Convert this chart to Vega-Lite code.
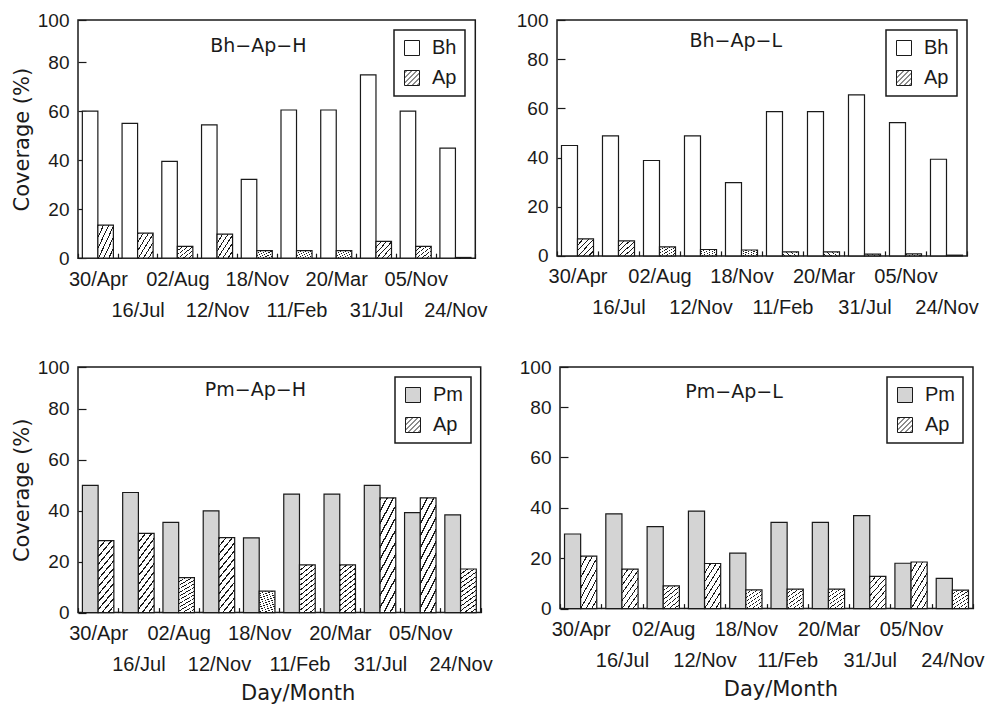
{
  "$schema": "https://vega.github.io/schema/vega-lite/v6.json",
  "background": "white",
  "padding": {"left": 10, "top": 10, "right": 0, "bottom": 0},
  "data": {"values": [
    {"panel": "BhH", "date": "30/Apr", "series": "Bh", "value": 60},
    {"panel": "BhH", "date": "16/Jul", "series": "Bh", "value": 55},
    {"panel": "BhH", "date": "02/Aug", "series": "Bh", "value": 39.5},
    {"panel": "BhH", "date": "12/Nov", "series": "Bh", "value": 54.4},
    {"panel": "BhH", "date": "18/Nov", "series": "Bh", "value": 32.2},
    {"panel": "BhH", "date": "11/Feb", "series": "Bh", "value": 60.5},
    {"panel": "BhH", "date": "20/Mar", "series": "Bh", "value": 60.5},
    {"panel": "BhH", "date": "31/Jul", "series": "Bh", "value": 74.8},
    {"panel": "BhH", "date": "05/Nov", "series": "Bh", "value": 60},
    {"panel": "BhH", "date": "24/Nov", "series": "Bh", "value": 44.9},
    {"panel": "BhH", "date": "30/Apr", "series": "Ap", "value": 13.5},
    {"panel": "BhH", "date": "16/Jul", "series": "Ap", "value": 10.2},
    {"panel": "BhH", "date": "02/Aug", "series": "Ap", "value": 4.8},
    {"panel": "BhH", "date": "12/Nov", "series": "Ap", "value": 9.8},
    {"panel": "BhH", "date": "18/Nov", "series": "Ap", "value": 3.1},
    {"panel": "BhH", "date": "11/Feb", "series": "Ap", "value": 3.1},
    {"panel": "BhH", "date": "20/Mar", "series": "Ap", "value": 3.1},
    {"panel": "BhH", "date": "31/Jul", "series": "Ap", "value": 6.9},
    {"panel": "BhH", "date": "05/Nov", "series": "Ap", "value": 4.8},
    {"panel": "BhH", "date": "24/Nov", "series": "Ap", "value": 0.3},
    {"panel": "BhL", "date": "30/Apr", "series": "Bh", "value": 44.9},
    {"panel": "BhL", "date": "16/Jul", "series": "Bh", "value": 48.8},
    {"panel": "BhL", "date": "02/Aug", "series": "Bh", "value": 38.8},
    {"panel": "BhL", "date": "12/Nov", "series": "Bh", "value": 48.8},
    {"panel": "BhL", "date": "18/Nov", "series": "Bh", "value": 29.8},
    {"panel": "BhL", "date": "11/Feb", "series": "Bh", "value": 58.7},
    {"panel": "BhL", "date": "20/Mar", "series": "Bh", "value": 58.7},
    {"panel": "BhL", "date": "31/Jul", "series": "Bh", "value": 65.5},
    {"panel": "BhL", "date": "05/Nov", "series": "Bh", "value": 54.2},
    {"panel": "BhL", "date": "24/Nov", "series": "Bh", "value": 39.3},
    {"panel": "BhL", "date": "30/Apr", "series": "Ap", "value": 6.9},
    {"panel": "BhL", "date": "16/Jul", "series": "Ap", "value": 6.1},
    {"panel": "BhL", "date": "02/Aug", "series": "Ap", "value": 3.7},
    {"panel": "BhL", "date": "12/Nov", "series": "Ap", "value": 2.6},
    {"panel": "BhL", "date": "18/Nov", "series": "Ap", "value": 2.4},
    {"panel": "BhL", "date": "11/Feb", "series": "Ap", "value": 1.6},
    {"panel": "BhL", "date": "20/Mar", "series": "Ap", "value": 1.6},
    {"panel": "BhL", "date": "31/Jul", "series": "Ap", "value": 0.7},
    {"panel": "BhL", "date": "05/Nov", "series": "Ap", "value": 0.8},
    {"panel": "BhL", "date": "24/Nov", "series": "Ap", "value": 0.3},
    {"panel": "PmH", "date": "30/Apr", "series": "Pm", "value": 49.9},
    {"panel": "PmH", "date": "16/Jul", "series": "Pm", "value": 47.1},
    {"panel": "PmH", "date": "02/Aug", "series": "Pm", "value": 35.4},
    {"panel": "PmH", "date": "12/Nov", "series": "Pm", "value": 39.9},
    {"panel": "PmH", "date": "18/Nov", "series": "Pm", "value": 29.3},
    {"panel": "PmH", "date": "11/Feb", "series": "Pm", "value": 46.5},
    {"panel": "PmH", "date": "20/Mar", "series": "Pm", "value": 46.5},
    {"panel": "PmH", "date": "31/Jul", "series": "Pm", "value": 49.9},
    {"panel": "PmH", "date": "05/Nov", "series": "Pm", "value": 39.2},
    {"panel": "PmH", "date": "24/Nov", "series": "Pm", "value": 38.3},
    {"panel": "PmH", "date": "30/Apr", "series": "Ap", "value": 28.2},
    {"panel": "PmH", "date": "16/Jul", "series": "Ap", "value": 31.1},
    {"panel": "PmH", "date": "02/Aug", "series": "Ap", "value": 13.7},
    {"panel": "PmH", "date": "12/Nov", "series": "Ap", "value": 29.4},
    {"panel": "PmH", "date": "18/Nov", "series": "Ap", "value": 8.4},
    {"panel": "PmH", "date": "11/Feb", "series": "Ap", "value": 18.7},
    {"panel": "PmH", "date": "20/Mar", "series": "Ap", "value": 18.7},
    {"panel": "PmH", "date": "31/Jul", "series": "Ap", "value": 45},
    {"panel": "PmH", "date": "05/Nov", "series": "Ap", "value": 45},
    {"panel": "PmH", "date": "24/Nov", "series": "Ap", "value": 17.1},
    {"panel": "PmL", "date": "30/Apr", "series": "Pm", "value": 29.6},
    {"panel": "PmL", "date": "16/Jul", "series": "Pm", "value": 37.6},
    {"panel": "PmL", "date": "02/Aug", "series": "Pm", "value": 32.5},
    {"panel": "PmL", "date": "12/Nov", "series": "Pm", "value": 38.7},
    {"panel": "PmL", "date": "18/Nov", "series": "Pm", "value": 22},
    {"panel": "PmL", "date": "11/Feb", "series": "Pm", "value": 34.2},
    {"panel": "PmL", "date": "20/Mar", "series": "Pm", "value": 34.2},
    {"panel": "PmL", "date": "31/Jul", "series": "Pm", "value": 36.9},
    {"panel": "PmL", "date": "05/Nov", "series": "Pm", "value": 18},
    {"panel": "PmL", "date": "24/Nov", "series": "Pm", "value": 12},
    {"panel": "PmL", "date": "30/Apr", "series": "Ap", "value": 20.8},
    {"panel": "PmL", "date": "16/Jul", "series": "Ap", "value": 15.7},
    {"panel": "PmL", "date": "02/Aug", "series": "Ap", "value": 9},
    {"panel": "PmL", "date": "12/Nov", "series": "Ap", "value": 17.9},
    {"panel": "PmL", "date": "18/Nov", "series": "Ap", "value": 7.4},
    {"panel": "PmL", "date": "11/Feb", "series": "Ap", "value": 7.7},
    {"panel": "PmL", "date": "20/Mar", "series": "Ap", "value": 7.7},
    {"panel": "PmL", "date": "31/Jul", "series": "Ap", "value": 12.8},
    {"panel": "PmL", "date": "05/Nov", "series": "Ap", "value": 18.5},
    {"panel": "PmL", "date": "24/Nov", "series": "Ap", "value": 7.3}
  ]},
  "spacing": 36,
  "resolve": {"scale": {"fill": "independent", "xOffset": "independent"}, "legend": {"fill": "independent"}},
  "vconcat": [
    {
      "spacing": 27,
      "resolve": {"scale": {"fill": "independent", "xOffset": "independent"}, "legend": {"fill": "independent"}},
      "hconcat": [
        {
          "width": 397.3, "height": 238.2,
          "transform": [{"filter": "datum.panel === 'BhH'"}],
          "title": {"text": "Bh−Ap−H", "offset": -45.4, "dx": -18.3},
          "mark": {"type": "bar", "stroke": "#1a1a1a", "strokeWidth": 1.2},
          "encoding": {
            "x": {"field": "date", "type": "nominal", "sort": null, "scale": {"paddingInner": 0, "paddingOuter": 0},
                  "axis": {"title": null, "labelExpr": "indexof(['16/Jul','12/Nov','11/Feb','31/Jul','24/Nov'], datum.value) >= 0 ? ['', datum.label] : datum.label"}},
            "xOffset": {"field": "series", "type": "nominal", "sort": ["Bh", "Ap"], "scale": {"paddingInner": 0, "paddingOuter": 0.28}},
            "y": {"field": "value", "type": "quantitative", "stack": null,
                  "scale": {"domain": [0, 80, 100], "range": [238.2, 42.2, 0], "nice": false},
                  "axis": {"title": "Coverage (%)", "values": [0, 20, 40, 60, 80, 100]}},
            "fill": {"field": "series", "type": "nominal",
                     "scale": {"domain": ["Bh", "Ap"], "range": ["#ffffff", "#ffffff"]},
                     "condition": {"test": "datum.series === 'Ap'", "value": {"gradient": "linear", "x1": 0, "y1": 0, "x2": 1, "y2": 1, "stops": [
                       {"offset": 0, "color": "#1a1a1a"}, {"offset": 0.035, "color": "#1a1a1a"}, {"offset": 0.035, "color": "#ffffff"}, {"offset": 0.1667, "color": "#ffffff"},
                       {"offset": 0.1667, "color": "#1a1a1a"}, {"offset": 0.2017, "color": "#1a1a1a"}, {"offset": 0.2017, "color": "#ffffff"}, {"offset": 0.3333, "color": "#ffffff"},
                       {"offset": 0.3333, "color": "#1a1a1a"}, {"offset": 0.3683, "color": "#1a1a1a"}, {"offset": 0.3683, "color": "#ffffff"}, {"offset": 0.5, "color": "#ffffff"},
                       {"offset": 0.5, "color": "#1a1a1a"}, {"offset": 0.535, "color": "#1a1a1a"}, {"offset": 0.535, "color": "#ffffff"}, {"offset": 0.6667, "color": "#ffffff"},
                       {"offset": 0.6667, "color": "#1a1a1a"}, {"offset": 0.7017, "color": "#1a1a1a"}, {"offset": 0.7017, "color": "#ffffff"}, {"offset": 0.8333, "color": "#ffffff"},
                       {"offset": 0.8333, "color": "#1a1a1a"}, {"offset": 0.8683, "color": "#1a1a1a"}, {"offset": 0.8683, "color": "#ffffff"}, {"offset": 1, "color": "#ffffff"}]}},
                     "legend": {"title": null, "encode": {"symbols": {"update": {
                       "shape": [{"test": "datum.value === 'Ap'", "value": "M-1,-1H1V1H-1Z M-1,-0.67L-0.67,-1 M-1,0L0,-1 M-1,0.67L0.67,-1 M-0.67,1L1,-0.67 M0,1L1,0 M0.67,1L1,0.67"}, {"value": "square"}],
                       "fill": {"value": "#ffffff"}, "stroke": {"value": "#1a1a1a"}, "strokeWidth": {"value": 1}, "opacity": {"value": 1}}}}}}
          }
        },
        {
          "width": 410, "height": 235.9,
          "transform": [{"filter": "datum.panel === 'BhL'"}],
          "title": {"text": "Bh−Ap−L", "offset": -40.4, "dx": -26.3},
          "mark": {"type": "bar", "stroke": "#1a1a1a", "strokeWidth": 1.2},
          "encoding": {
            "x": {"field": "date", "type": "nominal", "sort": null, "scale": {"paddingInner": 0, "paddingOuter": 0},
                  "axis": {"title": null, "labelExpr": "indexof(['16/Jul','12/Nov','11/Feb','31/Jul','24/Nov'], datum.value) >= 0 ? ['', datum.label] : datum.label"}},
            "xOffset": {"field": "series", "type": "nominal", "sort": ["Bh", "Ap"], "scale": {"paddingInner": 0, "paddingOuter": 0.28}},
            "y": {"field": "value", "type": "quantitative", "stack": null,
                  "scale": {"domain": [0, 80, 100], "range": [235.9, 39.2, 0], "nice": false},
                  "axis": {"title": null, "values": [0, 20, 40, 60, 80, 100]}},
            "fill": {"field": "series", "type": "nominal",
                     "scale": {"domain": ["Bh", "Ap"], "range": ["#ffffff", "#ffffff"]},
                     "condition": {"test": "datum.series === 'Ap'", "value": {"gradient": "linear", "x1": 0, "y1": 0, "x2": 1, "y2": 1, "stops": [
                       {"offset": 0, "color": "#1a1a1a"}, {"offset": 0.035, "color": "#1a1a1a"}, {"offset": 0.035, "color": "#ffffff"}, {"offset": 0.1667, "color": "#ffffff"},
                       {"offset": 0.1667, "color": "#1a1a1a"}, {"offset": 0.2017, "color": "#1a1a1a"}, {"offset": 0.2017, "color": "#ffffff"}, {"offset": 0.3333, "color": "#ffffff"},
                       {"offset": 0.3333, "color": "#1a1a1a"}, {"offset": 0.3683, "color": "#1a1a1a"}, {"offset": 0.3683, "color": "#ffffff"}, {"offset": 0.5, "color": "#ffffff"},
                       {"offset": 0.5, "color": "#1a1a1a"}, {"offset": 0.535, "color": "#1a1a1a"}, {"offset": 0.535, "color": "#ffffff"}, {"offset": 0.6667, "color": "#ffffff"},
                       {"offset": 0.6667, "color": "#1a1a1a"}, {"offset": 0.7017, "color": "#1a1a1a"}, {"offset": 0.7017, "color": "#ffffff"}, {"offset": 0.8333, "color": "#ffffff"},
                       {"offset": 0.8333, "color": "#1a1a1a"}, {"offset": 0.8683, "color": "#1a1a1a"}, {"offset": 0.8683, "color": "#ffffff"}, {"offset": 1, "color": "#ffffff"}]}},
                     "legend": {"title": null, "encode": {"symbols": {"update": {
                       "shape": [{"test": "datum.value === 'Ap'", "value": "M-1,-1H1V1H-1Z M-1,-0.67L-0.67,-1 M-1,0L0,-1 M-1,0.67L0.67,-1 M-0.67,1L1,-0.67 M0,1L1,0 M0.67,1L1,0.67"}, {"value": "square"}],
                       "fill": {"value": "#ffffff"}, "stroke": {"value": "#1a1a1a"}, "strokeWidth": {"value": 1}, "opacity": {"value": 1}}}}}}
          }
        }
      ]
    },
    {
      "spacing": 25,
      "resolve": {"scale": {"fill": "independent", "xOffset": "independent"}, "legend": {"fill": "independent"}},
      "hconcat": [
        {
          "width": 402.7, "height": 245.6,
          "transform": [{"filter": "datum.panel === 'PmH'"}],
          "title": {"text": "Pm−Ap−H", "offset": -42.1, "dx": -24},
          "mark": {"type": "bar", "stroke": "#1a1a1a", "strokeWidth": 1.2},
          "encoding": {
            "x": {"field": "date", "type": "nominal", "sort": null, "scale": {"paddingInner": 0, "paddingOuter": 0},
                  "axis": {"title": "Day/Month", "titleX": 219.7, "labelExpr": "indexof(['16/Jul','12/Nov','11/Feb','31/Jul','24/Nov'], datum.value) >= 0 ? ['', datum.label] : datum.label"}},
            "xOffset": {"field": "series", "type": "nominal", "sort": ["Pm", "Ap"], "scale": {"paddingInner": 0, "paddingOuter": 0.28}},
            "y": {"field": "value", "type": "quantitative", "stack": null,
                  "scale": {"domain": [0, 80, 100], "range": [245.6, 41.6, 0], "nice": false},
                  "axis": {"title": "Coverage (%)", "values": [0, 20, 40, 60, 80, 100]}},
            "fill": {"field": "series", "type": "nominal",
                     "scale": {"domain": ["Pm", "Ap"], "range": ["#d4d4d4", "#ffffff"]},
                     "condition": {"test": "datum.series === 'Ap'", "value": {"gradient": "linear", "x1": 0, "y1": 0, "x2": 0.307, "y2": 1.18, "stops": [
                       {"offset": 0, "color": "#1a1a1a"}, {"offset": 0.02, "color": "#1a1a1a"}, {"offset": 0.02, "color": "#ffffff"}, {"offset": 0.0833, "color": "#ffffff"},
                       {"offset": 0.0833, "color": "#1a1a1a"}, {"offset": 0.1033, "color": "#1a1a1a"}, {"offset": 0.1033, "color": "#ffffff"}, {"offset": 0.1667, "color": "#ffffff"},
                       {"offset": 0.1667, "color": "#1a1a1a"}, {"offset": 0.1867, "color": "#1a1a1a"}, {"offset": 0.1867, "color": "#ffffff"}, {"offset": 0.25, "color": "#ffffff"},
                       {"offset": 0.25, "color": "#1a1a1a"}, {"offset": 0.27, "color": "#1a1a1a"}, {"offset": 0.27, "color": "#ffffff"}, {"offset": 0.3333, "color": "#ffffff"},
                       {"offset": 0.3333, "color": "#1a1a1a"}, {"offset": 0.3533, "color": "#1a1a1a"}, {"offset": 0.3533, "color": "#ffffff"}, {"offset": 0.4167, "color": "#ffffff"},
                       {"offset": 0.4167, "color": "#1a1a1a"}, {"offset": 0.4367, "color": "#1a1a1a"}, {"offset": 0.4367, "color": "#ffffff"}, {"offset": 0.5, "color": "#ffffff"},
                       {"offset": 0.5, "color": "#1a1a1a"}, {"offset": 0.52, "color": "#1a1a1a"}, {"offset": 0.52, "color": "#ffffff"}, {"offset": 0.5833, "color": "#ffffff"},
                       {"offset": 0.5833, "color": "#1a1a1a"}, {"offset": 0.6033, "color": "#1a1a1a"}, {"offset": 0.6033, "color": "#ffffff"}, {"offset": 0.6667, "color": "#ffffff"},
                       {"offset": 0.6667, "color": "#1a1a1a"}, {"offset": 0.6867, "color": "#1a1a1a"}, {"offset": 0.6867, "color": "#ffffff"}, {"offset": 0.75, "color": "#ffffff"},
                       {"offset": 0.75, "color": "#1a1a1a"}, {"offset": 0.77, "color": "#1a1a1a"}, {"offset": 0.77, "color": "#ffffff"}, {"offset": 0.8333, "color": "#ffffff"},
                       {"offset": 0.8333, "color": "#1a1a1a"}, {"offset": 0.8533, "color": "#1a1a1a"}, {"offset": 0.8533, "color": "#ffffff"}, {"offset": 0.9167, "color": "#ffffff"},
                       {"offset": 0.9167, "color": "#1a1a1a"}, {"offset": 0.9367, "color": "#1a1a1a"}, {"offset": 0.9367, "color": "#ffffff"}, {"offset": 1, "color": "#ffffff"}]}},
                     "legend": {"title": null, "encode": {"symbols": {"update": {
                       "shape": [{"test": "datum.value === 'Ap'", "value": "M-1,-1H1V1H-1Z M-1,-0.67L-0.67,-1 M-1,0L0,-1 M-1,0.67L0.67,-1 M-0.67,1L1,-0.67 M0,1L1,0 M0.67,1L1,0.67"}, {"value": "square"}],
                       "fill": [{"test": "datum.value === 'Ap'", "value": "#ffffff"}, {"value": "#d4d4d4"}], "stroke": {"value": "#1a1a1a"}, "strokeWidth": {"value": 1}, "opacity": {"value": 1}}}}}}
          }
        },
        {
          "width": 413, "height": 241.6,
          "transform": [{"filter": "datum.panel === 'PmL'"}],
          "title": {"text": "Pm−Ap−L", "offset": -43.8, "dx": -32.5},
          "mark": {"type": "bar", "stroke": "#1a1a1a", "strokeWidth": 1.2},
          "encoding": {
            "x": {"field": "date", "type": "nominal", "sort": null, "scale": {"paddingInner": 0, "paddingOuter": 0},
                  "axis": {"title": "Day/Month", "titleX": 220.4, "labelExpr": "indexof(['16/Jul','12/Nov','11/Feb','31/Jul','24/Nov'], datum.value) >= 0 ? ['', datum.label] : datum.label"}},
            "xOffset": {"field": "series", "type": "nominal", "sort": ["Pm", "Ap"], "scale": {"paddingInner": 0, "paddingOuter": 0.28}},
            "y": {"field": "value", "type": "quantitative", "stack": null,
                  "scale": {"domain": [0, 80, 100], "range": [241.6, 40, 0], "nice": false},
                  "axis": {"title": null, "values": [0, 20, 40, 60, 80, 100]}},
            "fill": {"field": "series", "type": "nominal",
                     "scale": {"domain": ["Pm", "Ap"], "range": ["#d4d4d4", "#ffffff"]},
                     "condition": {"test": "datum.series === 'Ap'", "value": {"gradient": "linear", "x1": 0, "y1": 0, "x2": 0.676, "y2": 1.185, "stops": [
                       {"offset": 0, "color": "#1a1a1a"}, {"offset": 0.025, "color": "#1a1a1a"}, {"offset": 0.025, "color": "#ffffff"}, {"offset": 0.125, "color": "#ffffff"},
                       {"offset": 0.125, "color": "#1a1a1a"}, {"offset": 0.15, "color": "#1a1a1a"}, {"offset": 0.15, "color": "#ffffff"}, {"offset": 0.25, "color": "#ffffff"},
                       {"offset": 0.25, "color": "#1a1a1a"}, {"offset": 0.275, "color": "#1a1a1a"}, {"offset": 0.275, "color": "#ffffff"}, {"offset": 0.375, "color": "#ffffff"},
                       {"offset": 0.375, "color": "#1a1a1a"}, {"offset": 0.4, "color": "#1a1a1a"}, {"offset": 0.4, "color": "#ffffff"}, {"offset": 0.5, "color": "#ffffff"},
                       {"offset": 0.5, "color": "#1a1a1a"}, {"offset": 0.525, "color": "#1a1a1a"}, {"offset": 0.525, "color": "#ffffff"}, {"offset": 0.625, "color": "#ffffff"},
                       {"offset": 0.625, "color": "#1a1a1a"}, {"offset": 0.65, "color": "#1a1a1a"}, {"offset": 0.65, "color": "#ffffff"}, {"offset": 0.75, "color": "#ffffff"},
                       {"offset": 0.75, "color": "#1a1a1a"}, {"offset": 0.775, "color": "#1a1a1a"}, {"offset": 0.775, "color": "#ffffff"}, {"offset": 0.875, "color": "#ffffff"},
                       {"offset": 0.875, "color": "#1a1a1a"}, {"offset": 0.9, "color": "#1a1a1a"}, {"offset": 0.9, "color": "#ffffff"}, {"offset": 1, "color": "#ffffff"}]}},
                     "legend": {"title": null, "encode": {"symbols": {"update": {
                       "shape": [{"test": "datum.value === 'Ap'", "value": "M-1,-1H1V1H-1Z M-1,-0.67L-0.67,-1 M-1,0L0,-1 M-1,0.67L0.67,-1 M-0.67,1L1,-0.67 M0,1L1,0 M0.67,1L1,0.67"}, {"value": "square"}],
                       "fill": [{"test": "datum.value === 'Ap'", "value": "#ffffff"}, {"value": "#d4d4d4"}], "stroke": {"value": "#1a1a1a"}, "strokeWidth": {"value": 1}, "opacity": {"value": 1}}}}}}
          }
        }
      ]
    }
  ],
  "config": {
    "view": {"stroke": "#1a1a1a", "strokeWidth": 1.5},
    "axis": {"grid": false, "domain": false, "labelFont": "Liberation Sans", "labelColor": "#1a1a1a", "titleFont": "DejaVu Sans", "titleFontWeight": "normal", "titleColor": "#1a1a1a", "titleFontSize": 21, "tickColor": "#1a1a1a", "tickWidth": 1.2},
    "axisX": {"tickBand": "extent", "tickSize": -5, "labelPadding": 16, "labelAngle": 0, "labelAlign": "center", "labelBaseline": "top", "labelFontSize": 20, "labelLineHeight": 31, "labelOverlap": false, "labelFlush": false, "titlePadding": 8},
    "axisY": {"tickSize": -8, "labelPadding": 17, "labelFontSize": 19, "titlePadding": 5},
    "legend": {"orient": "top-right", "offset": 10, "padding": 8, "strokeColor": "#1a1a1a", "strokeWidth": 1.5, "fillColor": "#ffffff", "symbolType": "square", "symbolSize": 225, "symbolStrokeColor": "#1a1a1a", "symbolStrokeWidth": 1, "labelFont": "Liberation Sans", "labelFontSize": 20, "labelColor": "#1a1a1a", "rowPadding": 10, "labelOffset": 10},
    "title": {"orient": "top", "anchor": "middle", "frame": "group", "baseline": "alphabetic", "font": "DejaVu Sans", "fontSize": 19, "fontWeight": "normal", "color": "#1a1a1a"}
  }
}
